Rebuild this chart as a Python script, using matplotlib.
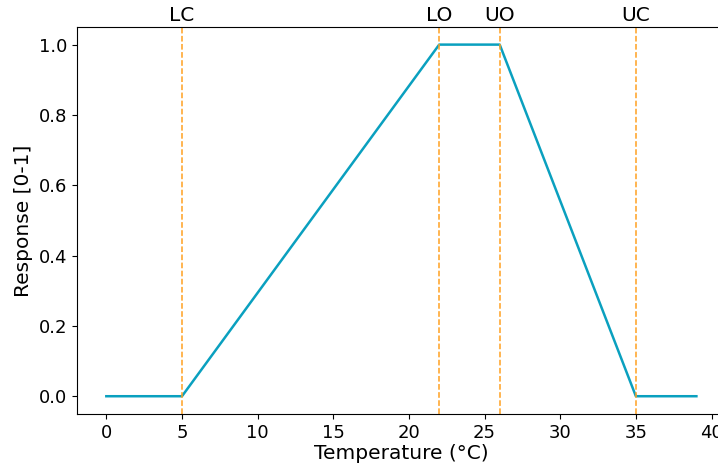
import matplotlib
matplotlib.use("Agg")
import matplotlib.pyplot as plt
import matplotlib.transforms as mtransforms

# Trapezoidal temperature response curve
temperature = [0, 5, 22, 26, 35, 39]
response = [0.0, 0.0, 1.0, 1.0, 0.0, 0.0]

# Cardinal temperatures
threshold_names = ["LC", "LO", "UO", "UC"]
threshold_values = [5, 22, 26, 35]

fig = plt.figure(figsize=(7.18, 4.66), dpi=100)
ax = fig.add_axes([0.107, 0.112, 0.904, 0.83])

ax.plot(temperature, response, color="#0aa0bf", linewidth=1.8)

trans = mtransforms.blended_transform_factory(ax.transData, ax.transAxes)
for name, t in zip(threshold_names, threshold_values):
    ax.axvline(t, color="#ffa020", linestyle="--", linewidth=1.1)
    ax.text(t, 1.005, name, transform=trans, ha="center", va="bottom", fontsize=14.5)

ax.set_xlabel("Temperature (°C)", fontsize=14.5, labelpad=2)
ax.set_ylabel("Response [0-1]", fontsize=14.5)
ax.tick_params(labelsize=13)

fig.savefig("out.png", dpi=100)
